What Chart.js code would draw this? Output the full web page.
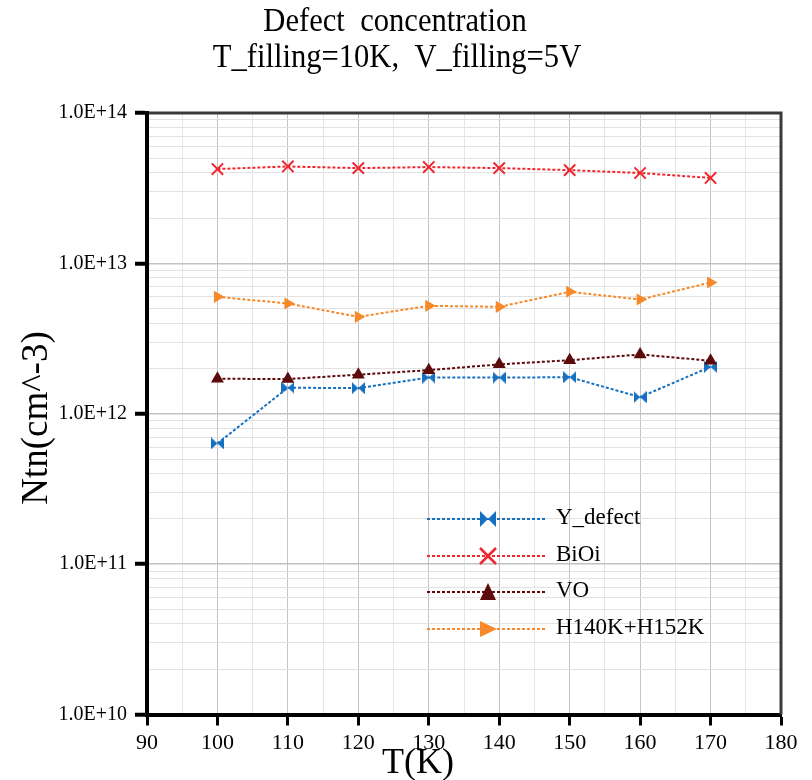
<!DOCTYPE html>
<html>
<head>
<meta charset="utf-8">
<script src="https://cdn.jsdelivr.net/npm/chart.js@4.4.1/dist/chart.umd.min.js"></script>
<style>
  html, body { margin: 0; padding: 0; background: #ffffff; }
  #wrap { width: 812px; height: 780px; position: relative; }
  canvas { display: block; }
</style>
</head>
<body>
<div id="wrap"><canvas id="chart" width="812" height="780"></canvas></div>
<script>
// Measured defect concentrations (cm^-3) versus temperature (K)
const temperatures = [100, 110, 120, 130, 140, 150, 160, 170];
const yDefect    = [6.35e11, 1.49e12, 1.48e12, 1.74e12, 1.74e12, 1.75e12, 1.29e12, 2.05e12];
const biOi       = [4.24e13, 4.41e13, 4.30e13, 4.37e13, 4.30e13, 4.17e13, 3.99e13, 3.70e13];
const vO         = [1.71e12, 1.70e12, 1.82e12, 1.95e12, 2.13e12, 2.27e12, 2.48e12, 2.25e12];
const h140h152   = [5.99e12, 5.41e12, 4.41e12, 5.22e12, 5.14e12, 6.47e12, 5.75e12, 7.46e12];

const seriesNames = ['Y_defect', 'BiOi', 'VO', 'H140K+H152K'];

const xTickValues = [90, 100, 110, 120, 130, 140, 150, 160, 170, 180];
const yMajorTicks = [1e10, 1e11, 1e12, 1e13, 1e14];
const yTickLabels = ['1.0E+10', '1.0E+11', '1.0E+12', '1.0E+13', '1.0E+14'];

const titleLines = ['Defect  concentration', 'T_filling=10K,  V_filling=5V'];
const xAxisTitle = 'T(K)';
const yAxisTitle = 'Ntn(cm^-3)';

const SERIF = '"Liberation Serif", "Times New Roman", serif';
const COLORS = {
  blue: '#1570c0',
  red: '#f0262e',
  maroon: '#5c0a0a',
  orange: '#f7892a'
};

// Bow-tie marker: two triangles meeting at the centre
function makeBowtie(w, h, color) {
  const c = document.createElement('canvas');
  c.width = w; c.height = h;
  const g = c.getContext('2d');
  g.fillStyle = color;
  g.beginPath();
  g.moveTo(0, 0); g.lineTo(w / 2, h / 2); g.lineTo(0, h); g.closePath();
  g.moveTo(w, 0); g.lineTo(w / 2, h / 2); g.lineTo(w, h); g.closePath();
  g.fill();
  return c;
}
const bowtiePoint = makeBowtie(13, 12, COLORS.blue);

const toPoints = (vals) => temperatures.map((t, i) => ({ x: t, y: vals[i] }));

const dashed = [3, 2];
const datasets = [
  {
    label: seriesNames[0], data: toPoints(yDefect),
    borderColor: COLORS.blue, backgroundColor: COLORS.blue,
    borderWidth: 2, borderDash: dashed,
    pointStyle: bowtiePoint, pointRadius: 7, order: 3
  },
  {
    label: seriesNames[1], data: toPoints(biOi),
    borderColor: COLORS.red, backgroundColor: COLORS.red,
    borderWidth: 2, borderDash: dashed,
    pointStyle: 'crossRot', pointRadius: 8, pointBorderWidth: 2, order: 2
  },
  {
    label: seriesNames[2], data: toPoints(vO),
    borderColor: COLORS.maroon, backgroundColor: COLORS.maroon,
    borderWidth: 2, borderDash: dashed,
    pointStyle: 'triangle', pointRadius: 7.5, pointBorderWidth: 0, order: 1
  },
  {
    label: seriesNames[3], data: toPoints(h140h152),
    borderColor: COLORS.orange, backgroundColor: COLORS.orange,
    borderWidth: 2, borderDash: dashed,
    pointStyle: 'triangle', pointRotation: 90, pointRadius: 7, pointBorderWidth: 0, order: 0
  }
];

// Top and right frame of the plot area
const framePlugin = {
  id: 'frame',
  beforeDatasetsDraw(chart) {
    const { ctx, chartArea: a } = chart;
    ctx.save();
    ctx.strokeStyle = '#3a3a3a';
    ctx.lineWidth = 3;
    ctx.beginPath();
    ctx.moveTo(a.left + 2, a.top);
    ctx.lineTo(a.right, a.top);
    ctx.lineTo(a.right, a.bottom);
    ctx.stroke();
    ctx.restore();
  }
};

// Narrow serif text helper (condensed horizontally)
function drawCondensed(ctx, text, cx, y, font, sx) {
  ctx.save();
  ctx.font = font;
  ctx.translate(cx, y);
  ctx.scale(sx, 1);
  ctx.textAlign = 'center';
  ctx.fillText(text, 0, 0);
  ctx.restore();
}

// Title lines and axis titles
const textPlugin = {
  id: 'texts',
  afterDraw(chart) {
    const { ctx } = chart;
    ctx.save();
    ctx.fillStyle = '#000';
    ctx.textBaseline = 'alphabetic';
    drawCondensed(ctx, titleLines[0], 395, 31, '34px ' + SERIF, 0.9);
    drawCondensed(ctx, titleLines[1], 397, 67, '34px ' + SERIF, 0.9);

    drawCondensed(ctx, xAxisTitle, 418, 773, '36px ' + SERIF, 1.0);

    ctx.translate(47, 418);
    ctx.rotate(-Math.PI / 2);
    ctx.font = '37px ' + SERIF;
    ctx.textAlign = 'center';
    ctx.fillText(yAxisTitle, 0, 0);
    ctx.restore();
  }
};

// Legend drawn inside the plot area
const legendPlugin = {
  id: 'insideLegend',
  afterDraw(chart) {
    const { ctx } = chart;
    const rows = [519, 556, 592, 629];
    const x0 = 427, x1 = 547, mx = 488, tx = 556;
    ctx.save();
    chart.data.datasets.forEach((ds, i) => {
      const y = rows[i];
      ctx.strokeStyle = ds.borderColor;
      ctx.lineWidth = 2;
      ctx.setLineDash(ds.borderDash);
      ctx.beginPath();
      ctx.moveTo(x0, y); ctx.lineTo(x1, y);
      ctx.stroke();
      ctx.setLineDash([]);
      ctx.fillStyle = ds.backgroundColor;
      ctx.strokeStyle = ds.borderColor;
      ctx.beginPath();
      if (i === 0) {
        ctx.moveTo(mx - 8, y - 8); ctx.lineTo(mx, y); ctx.lineTo(mx - 8, y + 8); ctx.closePath();
        ctx.moveTo(mx + 8, y - 8); ctx.lineTo(mx, y); ctx.lineTo(mx + 8, y + 8); ctx.closePath();
        ctx.fill();
      } else if (i === 1) {
        ctx.lineWidth = 2.5;
        ctx.moveTo(mx - 8, y - 8); ctx.lineTo(mx + 8, y + 8);
        ctx.moveTo(mx + 8, y - 8); ctx.lineTo(mx - 8, y + 8);
        ctx.stroke();
      } else if (i === 2) {
        ctx.moveTo(mx, y - 9); ctx.lineTo(mx + 8, y + 8); ctx.lineTo(mx - 8, y + 8); ctx.closePath();
        ctx.fill();
      } else {
        ctx.moveTo(mx - 8, y - 8); ctx.lineTo(mx + 9, y); ctx.lineTo(mx - 8, y + 8); ctx.closePath();
        ctx.fill();
      }
      ctx.fillStyle = '#000';
      ctx.font = '23px ' + SERIF;
      ctx.textAlign = 'left';
      ctx.textBaseline = 'alphabetic';
      ctx.fillText(ds.label, tx, y + 5);
    });
    ctx.restore();
  }
};

const isMajorX = (v) => xTickValues.includes(v);
const isMajorY = (v) => yMajorTicks.some(m => Math.abs(v - m) / m < 1e-9);

new Chart(document.getElementById('chart'), {
  type: 'line',
  data: { datasets },
  options: {
    responsive: false,
    animation: false,
    devicePixelRatio: 1,
    layout: { padding: { top: 113, right: 31, bottom: 0, left: 0 } },
    plugins: {
      legend: { display: false },
      title: { display: false },
      tooltip: { enabled: false }
    },
    elements: { line: { tension: 0, fill: false } },
    scales: {
      x: {
        type: 'linear',
        min: 90, max: 180,
        afterBuildTicks(scale) {
          const t = [];
          xTickValues.forEach((v, i) => {
            t.push({ value: v });
            if (i < xTickValues.length - 1) t.push({ value: v + 5 });
          });
          scale.ticks = t;
        },
        afterFit(scale) { scale.height = 65.5; },
        ticks: {
          autoSkip: false, maxRotation: 0, padding: 5,
          color: '#000',
          font: { family: SERIF, size: 22 },
          callback: (v) => isMajorX(v) ? String(v) : ''
        },
        grid: {
          color: (c) => (c.tick && isMajorX(c.tick.value)) ? '#c4c4c4' : '#e6e6e6',
          lineWidth: 1,
          tickColor: (c) => (c.tick && isMajorX(c.tick.value)) ? '#000' : 'rgba(0,0,0,0)',
          tickLength: 11,
          tickWidth: 3
        },
        border: { color: '#000', width: 4 }
      },
      y: {
        type: 'logarithmic',
        min: 1e10, max: 1e14,
        afterBuildTicks(scale) {
          const t = [];
          yMajorTicks.forEach((m, i) => {
            t.push({ value: m });
            if (i < yMajorTicks.length - 1) {
              for (let k = 2; k <= 9; k++) t.push({ value: k * m });
            }
          });
          scale.ticks = t;
        },
        afterFit(scale) { scale.width = 147; },
        ticks: {
          autoSkip: false, padding: 8,
          color: '#000',
          font: { family: SERIF, size: 20 },
          callback: (v) => {
            const idx = yMajorTicks.findIndex(m => Math.abs(v - m) / m < 1e-9);
            return idx >= 0 ? yTickLabels[idx] : '';
          }
        },
        grid: {
          color: (c) => (c.tick && isMajorY(c.tick.value)) ? '#c2c2c2' : '#e2e2e2',
          lineWidth: (c) => (c.tick && isMajorY(c.tick.value)) ? 1.5 : 1,
          tickColor: (c) => (c.tick && isMajorY(c.tick.value)) ? '#000' : 'rgba(0,0,0,0)',
          tickLength: 12,
          tickWidth: 4
        },
        border: { color: '#000', width: 4 }
      }
    }
  },
  plugins: [framePlugin, textPlugin, legendPlugin]
});
</script>
</body>
</html>
